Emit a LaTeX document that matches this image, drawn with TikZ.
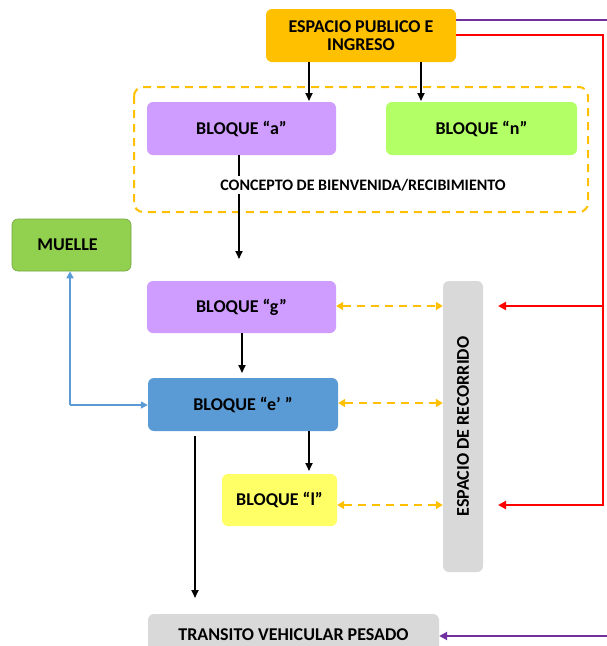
\documentclass[tikz,border=0pt]{standalone}
\usepackage{fontspec}
\setmainfont{Carlito}
\usetikzlibrary{arrows.meta}
\definecolor{cOrange}{HTML}{FFC000}
\definecolor{cPurple}{HTML}{CF9CFF}
\definecolor{cLime}{HTML}{B3FF66}
\definecolor{cGreen}{HTML}{92D050}
\definecolor{cBlue}{HTML}{5B9BD5}
\definecolor{cYellow}{HTML}{FFFF66}
\definecolor{cGray}{HTML}{D9D9D9}
\definecolor{cViolet}{HTML}{7030A0}
\definecolor{cRed}{HTML}{FF0000}
\begin{document}
\begin{tikzpicture}[x=1pt,y=-1pt,
  box/.style={rounded corners=6pt, inner sep=0pt, align=center, font=\bfseries\fontsize{18}{20}\selectfont},
  blk/.style={-{Triangle[length=8pt,width=7pt]}, line width=1.8pt, black},
  dsh/.style={{Triangle[length=7pt,width=8pt]}-{Triangle[length=7pt,width=8pt]}, line width=2pt, cOrange, dash pattern=on 8pt off 6pt},
  red/.style={-{Triangle[length=8pt,width=8pt]}, line width=2.2pt, cRed},
  vio/.style={-{Triangle[length=8pt,width=8pt]}, line width=2.2pt, cViolet},
  blu/.style={-{Triangle[length=7pt,width=7pt]}, line width=1.6pt, cBlue}
]
\useasboundingbox (0,0) rectangle (607,646);
\fill[white] (0,0) rectangle (607,646);

% dashed group
\draw[cOrange, line width=2pt, dash pattern=on 8pt off 6pt, rounded corners=9pt] (134,87) rectangle (588,212);

\node[box, fill=cOrange, minimum width=190pt, minimum height=53pt, font=\bfseries\fontsize{18}{18}\selectfont] (esp) at (361,35.5) {ESPACIO PUBLICO E\\INGRESO};
\node[box, fill=cPurple, minimum width=189pt, minimum height=53pt] (a) at (241.5,128.5) {BLOQUE “a”};
\node[box, fill=cLime, minimum width=191pt, minimum height=53pt] (n) at (481.5,128.5) {BLOQUE “n”};
\node[box, fill=cGreen, draw=cGreen!80!black, line width=0.6pt, minimum width=119pt, minimum height=52pt] (muelle) at (71.5,245) {\hspace*{-8pt}MUELLE};
\node[box, fill=cPurple, minimum width=189pt, minimum height=52pt] (g) at (241.5,307) {BLOQUE “g”};
\node[box, fill=cBlue, minimum width=190pt, minimum height=53pt] (e) at (243,404.5) {BLOQUE “e’ ”};
\node[box, fill=cYellow, minimum width=115pt, minimum height=52pt] (l) at (279.5,500) {BLOQUE “l”};
\node[box, fill=cGray, rotate=90, minimum width=291pt, minimum height=40pt] (rec) at (463,426.5) {ESPACIO DE RECORRIDO};
\node[box, fill=cGray, minimum width=291pt, minimum height=42pt] (tra) at (293.5,635) {TRANSITO VEHICULAR PESADO};

% black arrows from espacio
\coordinate (ea) at (309,62);
\coordinate (en) at (421,62);
\draw[blk] (ea) -- (309,101);
\draw[blk] (en) -- (421,101);

% a -> g with label
\coordinate (ag) at (239,259);
\draw[blk] (239,155) -- (ag);
\node[fill=white, inner sep=3pt, font=\bfseries\fontsize{16}{18}\selectfont] (concepto) at (363,185) {CONCEPTO DE BIENVENIDA/RECIBIMIENTO};

% g -> e
\draw[blk] (242,333) -- (242,373);
% e -> l
\draw[blk] (309,431) -- (309,471);
% e -> down
\coordinate (ed) at (195,598);
\draw[blk] (195,436) -- (ed);

% blue
\coordinate (bj) at (70,405);
\draw[blu] (bj) -- (muelle.south -| bj);
\draw[blu] (bj) -- (e.west |- bj);

% orange dashed double arrows
\draw[dsh] (g.east |- 0,306) -- (rec.north |- 0,306);
\draw[dsh] (e.east |- 0,403) -- (rec.north |- 0,403);
\draw[dsh] (l.east |- 0,505) -- (rec.north |- 0,505);

% red
\coordinate (r1) at (498,306);
\coordinate (r2) at (498,505);
\draw[red] (esp.east |- 0,35) -- (603,35) -- (603,505) -- (r2);
\draw[red] (603,306) -- (r1);

% violet
\draw[vio] (esp.east |- 0,20) -- (610,20) -- (610,636) -- (tra.east |- 0,636);
\end{tikzpicture}
\end{document}
